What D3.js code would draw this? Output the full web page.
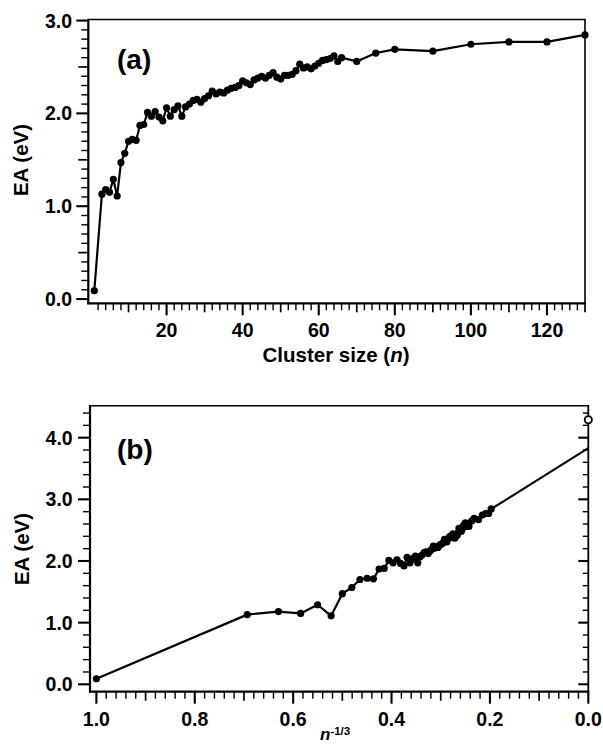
<!DOCTYPE html>
<html><head><meta charset="utf-8">
<script src="https://cdn.jsdelivr.net/npm/d3@7"></script>
<style>
body{margin:0;background:#fff}
svg{display:block}
text{font-family:"Liberation Sans",Arial,Helvetica,sans-serif;font-weight:bold;fill:#000}
</style>
</head><body>
<svg id="c" width="603" height="746"></svg>
<script>
// ---- data ----
const clusterSize = [1,3,4,5,6,7,8,9,10,11,12,13,14,15,16,17,18,19,20,21,22,23,24,25,26,27,28,29,30,
  31,32,33,34,35,36,37,38,39,40,41,42,43,44,45,46,47,48,49,50,51,52,53,54,55,56,57,58,59,60,
  61,62,63,64,65,66,70,75,80,90,100,110,120,130];
const electronAffinity = [0.09,1.13,1.18,1.15,1.29,1.11,1.47,1.57,1.70,1.72,1.71,1.87,1.88,2.01,1.97,2.02,1.96,1.92,2.06,1.97,2.04,2.08,1.97,2.07,2.10,2.14,2.15,2.12,2.16,
  2.19,2.24,2.21,2.23,2.22,2.25,2.27,2.28,2.30,2.35,2.33,2.31,2.36,2.38,2.40,2.38,2.41,2.44,2.39,2.37,2.41,2.41,2.42,2.46,2.53,2.49,2.50,2.48,2.51,2.54,
  2.57,2.58,2.59,2.62,2.56,2.60,2.56,2.65,2.69,2.67,2.745,2.77,2.77,2.845];
const fitLineX = [0.197, 0.0];
const fitLineEA = [2.845, 3.83];
const bulkX = [0.0];
const bulkEA = [4.29];
const aXTickLabels = [20,40,60,80,100,120];
const aYTickLabels = [0,1,2,3];
const bXTickLabels = [1.0,0.8,0.6,0.4,0.2,0.0];
const bYTickLabels = [0,1,2,3,4];

const svg = d3.select('#c');
const pts = clusterSize.map((n,i)=>({n, x: Math.pow(n,-1/3), ea: electronAffinity[i]}));

function hTicks(g, scale, vals, y0, len, w){
  g.selectAll(null).data(vals).enter().append('line')
   .attr('x1',d=>scale(d)).attr('x2',d=>scale(d))
   .attr('y1',y0).attr('y2',y0+len)
   .attr('stroke','#000').attr('stroke-width',w);
}
function vTicks(g, scale, vals, x0, len, w){
  g.selectAll(null).data(vals).enter().append('line')
   .attr('y1',d=>scale(d)).attr('y2',d=>scale(d))
   .attr('x1',x0).attr('x2',x0+len)
   .attr('stroke','#000').attr('stroke-width',w);
}
function near(v, step){ return Math.abs(v/step - Math.round(v/step)) < 1e-6; }

// ---------- Panel (a) ----------
const xa = d3.scaleLinear().domain([-0.58,130]).range([88.3,585]);
const ya = d3.scaleLinear().domain([-0.046,3.02]).range([303.3,18.7]);
const ga = svg.append('g');
const aL = 88.3, aR = 585, aT = ya(3.02), aB = ya(-0.046);

const aMinorX = d3.range(2,130,2).filter(v=>!near(v,10));
const aMidX = d3.range(10,131,20);
hTicks(ga, xa, aMinorX, aB, 7, 1.4);
hTicks(ga, xa, aMidX, aB, 9, 1.7);
hTicks(ga, xa, aXTickLabels, aB, 12, 2.1);
const aMinorY = d3.range(0,30.5,1).map(v=>v/10).filter(v=>!near(v,0.5));
const aMidY = [0.5,1.5,2.5];
vTicks(ga, ya, aMinorY, aL-7, 7, 1.4);
vTicks(ga, ya, aMidY, aL-10, 10, 1.7);
vTicks(ga, ya, aYTickLabels, aL-12, 12, 2.1);

ga.append('line').attr('x1',aL).attr('x2',aR).attr('y1',aT+0.8).attr('y2',aT+0.8).attr('stroke','#000').attr('stroke-width',1.6);
ga.append('line').attr('x1',aR).attr('x2',aR).attr('y1',aT).attr('y2',aB).attr('stroke','#000').attr('stroke-width',1.6);
ga.append('line').attr('x1',aL).attr('x2',aL).attr('y1',aT).attr('y2',aB+1).attr('stroke','#000').attr('stroke-width',2.2);
ga.append('line').attr('x1',aL-1).attr('x2',aR+0.8).attr('y1',aB).attr('y2',aB).attr('stroke','#000').attr('stroke-width',2.2);

ga.selectAll(null).data(aXTickLabels).enter().append('text')
  .attr('x',d=>xa(d)).attr('y',337).attr('text-anchor','middle').attr('font-size',19.5).text(d=>d);
ga.selectAll(null).data(aYTickLabels).enter().append('text')
  .attr('x',72).attr('y',d=>ya(d)+7).attr('text-anchor','end').attr('font-size',19.5).text(d=>d.toFixed(1));
const at = ga.append('text').attr('x',336).attr('y',362).attr('text-anchor','middle').attr('font-size',20.5);
at.append('tspan').text('Cluster size (');
at.append('tspan').attr('font-style','italic').text('n');
at.append('tspan').text(')');
ga.append('text').attr('transform','translate(28,160) rotate(-90)').attr('text-anchor','middle').attr('font-size',20.5).text('EA (eV)');
ga.append('text').attr('x',117).attr('y',69).attr('font-size',28).text('(a)');

ga.append('path').datum(pts)
  .attr('d', d3.line().x(d=>xa(d.n)).y(d=>ya(d.ea)))
  .attr('fill','none').attr('stroke','#000').attr('stroke-width',2.2).attr('stroke-linejoin','round');
ga.selectAll(null).data(pts).enter().append('circle')
  .attr('cx',d=>xa(d.n)).attr('cy',d=>ya(d.ea)).attr('r',3.6).attr('fill','#000');

// ---------- Panel (b) ----------
const xb = d3.scaleLinear().domain([1.013,0]).range([90,588.3]);
const yb = d3.scaleLinear().domain([-0.12,4.53]).range([691.7,405]);
const gb = svg.append('g');
const bL = 90, bR = 588.3, bT = yb(4.53), bB = yb(-0.12);

const bMinorX = d3.range(0,101,2).map(v=>v/100).filter(v=>!near(v,0.1));
const bMidX = [0.1,0.3,0.5,0.7,0.9];
hTicks(gb, xb, bMinorX, bB, 7, 1.4);
hTicks(gb, xb, bMidX, bB, 9, 1.7);
hTicks(gb, xb, bXTickLabels, bB, 12, 2.1);
const bMinorY = d3.range(0,45,2).map(v=>v/10).filter(v=>!near(v,1));
vTicks(gb, yb, bMinorY, bL-7, 7, 1.4);
vTicks(gb, yb, bYTickLabels, bL-12, 12, 2.1);
vTicks(gb, yb, bMinorY, bR-5.5, 5.5, 1.4);
vTicks(gb, yb, bYTickLabels, bR-10, 10, 2.1);

gb.append('line').attr('x1',bL).attr('x2',bR).attr('y1',bT+0.8).attr('y2',bT+0.8).attr('stroke','#000').attr('stroke-width',1.6);
gb.append('line').attr('x1',bR).attr('x2',bR).attr('y1',bT).attr('y2',bB).attr('stroke','#000').attr('stroke-width',1.8);
gb.append('line').attr('x1',bL).attr('x2',bL).attr('y1',bT).attr('y2',bB+1).attr('stroke','#000').attr('stroke-width',2.2);
gb.append('line').attr('x1',bL-1).attr('x2',bR+0.9).attr('y1',bB).attr('y2',bB).attr('stroke','#000').attr('stroke-width',2.2);

gb.selectAll(null).data(bXTickLabels).enter().append('text')
  .attr('x',d=>xb(d)).attr('y',726).attr('text-anchor','middle').attr('font-size',19.5).text(d=>d.toFixed(1));
gb.selectAll(null).data(bYTickLabels).enter().append('text')
  .attr('x',72.7).attr('y',d=>yb(d)+7).attr('text-anchor','end').attr('font-size',19.5).text(d=>d.toFixed(1));
const bt = gb.append('text').attr('x',320).attr('y',740).attr('font-size',17);
bt.append('tspan').attr('font-style','italic').text('n');
bt.append('tspan').attr('font-size',11.5).attr('dy',-5.5).text('-1/3');
gb.append('text').attr('transform','translate(29,549) rotate(-90)').attr('text-anchor','middle').attr('font-size',20.5).text('EA (eV)');
gb.append('text').attr('x',117).attr('y',459).attr('font-size',28).text('(b)');

gb.append('path').datum(pts)
  .attr('d', d3.line().x(d=>xb(d.x)).y(d=>yb(d.ea)))
  .attr('fill','none').attr('stroke','#000').attr('stroke-width',2.2).attr('stroke-linejoin','round');
gb.append('path').datum(fitLineX.map((x,i)=>({x, ea: fitLineEA[i]})))
  .attr('d', d3.line().x(d=>xb(d.x)).y(d=>yb(d.ea)))
  .attr('fill','none').attr('stroke','#000').attr('stroke-width',2.2);
gb.selectAll(null).data(pts).enter().append('circle')
  .attr('cx',d=>xb(d.x)).attr('cy',d=>yb(d.ea)).attr('r',3.6).attr('fill','#000');
gb.selectAll(null).data(bulkX.map((x,i)=>({x, ea: bulkEA[i]}))).enter().append('circle')
  .attr('cx',d=>xb(d.x)).attr('cy',d=>yb(d.ea)).attr('r',3.6)
  .attr('fill','#fff').attr('stroke','#000').attr('stroke-width',1.8);
</script>
</body></html>
